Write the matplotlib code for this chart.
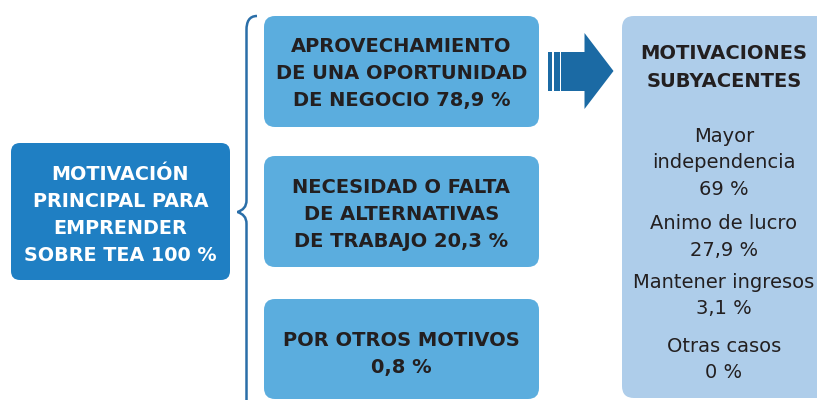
import matplotlib
matplotlib.use("Agg")
import matplotlib.pyplot as plt
from matplotlib.patches import FancyBboxPatch, Polygon, Rectangle
from matplotlib.path import Path
from matplotlib.patches import PathPatch

# ---- data ----
main_lines = ["MOTIVACIÓN", "PRINCIPAL PARA", "EMPRENDER", "SOBRE TEA"]
main_total = 100
motive_lines = [
    ["APROVECHAMIENTO", "DE UNA OPORTUNIDAD", "DE NEGOCIO"],
    ["NECESIDAD O FALTA", "DE ALTERNATIVAS", "DE TRABAJO"],
    ["POR OTROS MOTIVOS"],
]
motive_values = [78.9, 20.3, 0.8]
motive_value_own_line = [False, False, True]
sub_title = ["MOTIVACIONES", "SUBYACENTES"]
sub_lines = [["Mayor", "independencia"], ["Animo de lucro"], ["Mantener ingresos"], ["Otras casos"]]
sub_values = [69, 27.9, 3.1, 0]


def pct(v):
    return f"{v:g}".replace(".", ",") + " %"


# ---- style ----
C_MAIN = "#1f7fc3"
C_MID = "#5badde"
C_RIGHT = "#aecdea"
C_ARROW = "#1b6aa4"
C_BRACE = "#2a6ea8"
C_TEXT = "#231f20"
FONT = "DejaVu Sans"
FS = 14

fig = plt.figure(figsize=(8.17, 4.0), dpi=100)
ax = fig.add_axes([0, 0, 1, 1])
ax.set_xlim(0, 817)
ax.set_ylim(400, 0)
ax.axis("off")


def rbox(x0, y0, x1, y1, color, r=10):
    p = FancyBboxPatch((x0, y0), x1 - x0, y1 - y0,
                       boxstyle=f"round,pad=0,rounding_size={r}",
                       fc=color, ec="none")
    ax.add_patch(p)


def lines(x, baselines, texts, color, weight, fs=FS):
    for b, t in zip(baselines, texts):
        ax.text(x, b, t, ha="center", va="baseline", fontsize=fs,
                fontweight=weight, color=color, family=FONT)


STEP = 27

# left box
rbox(11, 143, 230, 280, C_MAIN, r=9)
main_text = main_lines[:-1] + [main_lines[-1] + " " + pct(main_total)]
lines(120.5, [180 + i * STEP for i in range(len(main_text))], main_text, "white", "bold", 13.8)

# brace
bx, tipx, tipy = 246.5, 237.5, 212
verts = [(257, 16), (249, 16), (bx, 22), (bx, 30),
         (bx, 200),
         (bx, 207), (243, 210), (tipx, tipy),
         (243, 214), (bx, 217), (bx, 224),
         (bx, 402)]
codes = [Path.MOVETO, Path.CURVE4, Path.CURVE4, Path.CURVE4,
         Path.LINETO,
         Path.CURVE4, Path.CURVE4, Path.CURVE4,
         Path.CURVE4, Path.CURVE4, Path.CURVE4,
         Path.LINETO]
ax.add_patch(PathPatch(Path(verts, codes), fc="none", ec=C_BRACE, lw=1.8))

# middle boxes
mid_boxes = [(16, 127), (156, 267), (299, 399)]
first_base = [52, 193, 346]
for (y0, y1), tl, v, own, fb in zip(mid_boxes, motive_lines, motive_values,
                                    motive_value_own_line, first_base):
    rbox(264, y0, 539, y1, C_MID, r=11)
    if own:
        txt = tl + [pct(v)]
    else:
        txt = tl[:-1] + [tl[-1] + " " + pct(v)]
    lines(401.5, [fb + i * STEP for i in range(len(txt))], txt, C_TEXT, "bold")

# arrow
ax.add_patch(Rectangle((548.3, 52), 4.2, 39, fc=C_ARROW, ec="none"))
ax.add_patch(Rectangle((553.6, 52), 6.4, 39, fc=C_ARROW, ec="none"))
ax.add_patch(Polygon([(561, 52), (584.5, 52), (584.5, 33), (613.5, 71),
                      (584.5, 109), (584.5, 91), (561, 91)],
                     closed=True, fc=C_ARROW, ec="none"))

# right box
rbox(622, 16, 840, 398, C_RIGHT, r=12)
lines(724, [59, 87], sub_title, C_TEXT, "bold")
sub_first = [142, 229, 288, 352]
for tl, v, fb in zip(sub_lines, sub_values, sub_first):
    txt = tl + [pct(v)]
    lines(724, [fb + i * 26.5 for i in range(len(txt))], txt, C_TEXT, "normal")

fig.savefig("out.png", dpi=100)
